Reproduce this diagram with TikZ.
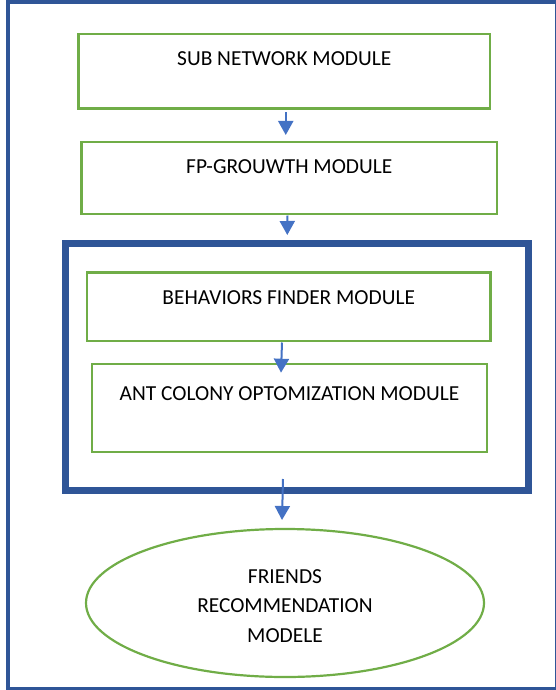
\documentclass[tikz,border=0pt]{standalone}
\usepackage{fontspec}
\setmainfont{Carlito}
\usetikzlibrary{arrows.meta,shapes.geometric}
\definecolor{modgreen}{HTML}{70AD47}
\definecolor{frameblue}{HTML}{2F5597}
\definecolor{flowblue}{HTML}{4472C4}
\begin{document}
\begin{tikzpicture}[x=1pt,y=-1pt,
  labelfont/.style={font=\fontsize{21.4}{29.5}\selectfont},
  module/.style={draw=modgreen, line width=2.5pt, outer sep=0pt, inner sep=0pt,
    align=center, labelfont},
  group/.style={draw=frameblue, line width=7pt, outer sep=0pt, inner sep=0pt},
  result/.style={ellipse, draw=modgreen, line width=2.2pt, outer sep=0pt,
    inner sep=0pt, align=center, labelfont},
  frame/.style={draw=frameblue, line width=4pt},
  flow/.style={draw=flowblue, line width=2pt,
    -{Triangle[width=15pt,length=14pt]}}
]
\useasboundingbox (0,0) rectangle (556,690);
\clip (0,0) rectangle (556,690);

% outer frame
\draw[frame] (8,2) rectangle (557,688.5);

% processing modules
\node[module, minimum width=411.5pt, text height=32pt, text depth=42.5pt]
  (sub) at (284.25,71.25) {SUB NETWORK MODULE};
\node[module, minimum width=415.5pt, text height=31pt, text depth=41pt]
  (fp) at (289.25,178) {FP-GROUWTH MODULE};

% grouped modules
\node[group, minimum width=463pt, minimum height=247pt]
  (grp) at (297,367) {};
\node[module, minimum width=403.5pt, text height=31.5pt, text depth=37pt]
  (beh) at (288.75,306.75) {BEHAVIORS FINDER MODULE};
\node[module, minimum width=395pt, text height=36.5pt, text depth=51.5pt]
  (aco) at (289.5,408) {ANT COLONY OPTOMIZATION MODULE};

% final recommendation
\node[result, minimum width=398pt, minimum height=148pt]
  (rec) at (285,603) {\rule{0pt}{19.5pt}FRIENDS\\RECOMMENDATION\\MODELE};

% flow arrows
\draw[flow] ([xshift=1.5pt,yshift=-4pt]sub.south) -- ([xshift=-3.5pt,yshift=7pt]fp.north);
\draw[flow] ([xshift=-2pt,yshift=-1.5pt]fp.south) -- ([xshift=-9.7pt,yshift=8.5pt]grp.north);
\draw[flow] ([xshift=-6.75pt,yshift=-1.5pt]beh.south) -- ([xshift=-8.5pt,yshift=-8.7pt]aco.north);
\draw[flow] ([xshift=-14pt,yshift=11.5pt]grp.south) -- ([xshift=-3pt,yshift=9pt]rec.north);
\end{tikzpicture}
\end{document}
